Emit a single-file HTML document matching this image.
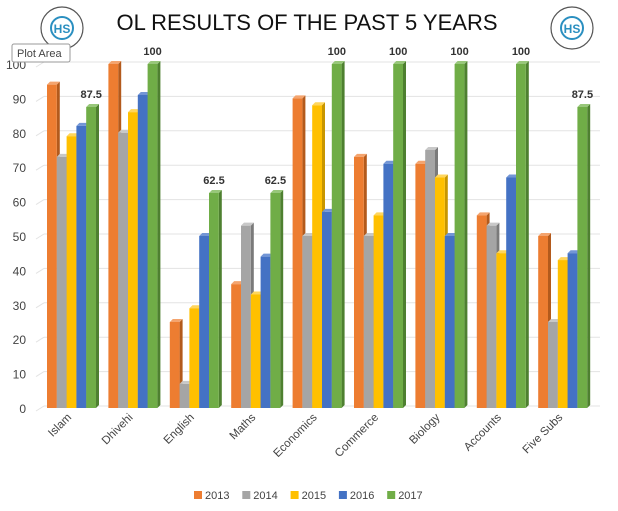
<!DOCTYPE html>
<html><head><meta charset="utf-8"><style>
body{margin:0;background:#fff;}
svg{display:block;font-family:"Liberation Sans",sans-serif;}
</style></head><body>
<svg id="s" width="618" height="511" xmlns="http://www.w3.org/2000/svg">
<rect width="618" height="511" fill="#fff"/>
<text x="307" y="30" font-size="22" text-anchor="middle" fill="#111">OL RESULTS OF THE PAST 5 YEARS</text>
<g fill="none" stroke="#555" stroke-width="1.2">
<circle cx="62" cy="28" r="21"/><circle cx="572" cy="28" r="21"/>
</g>
<g fill="none" stroke="#2a8fc0" stroke-width="2">
<circle cx="62" cy="28" r="11"/><circle cx="572" cy="28" r="11"/>
</g>
<text x="62" y="33" font-size="12" font-weight="bold" text-anchor="middle" fill="#2a8fc0">HS</text>
<text x="572" y="33" font-size="12" font-weight="bold" text-anchor="middle" fill="#2a8fc0">HS</text>
<g id="grid"></g><g id="bars"></g><g id="lab"></g>
<rect x="12" y="44" width="58" height="18" fill="#fff" stroke="#999" rx="2"/>
<text x="17" y="57" font-size="11" fill="#444">Plot Area</text>
</svg>
<script>
(function(){
const NS="http://www.w3.org/2000/svg";
function el(p,t,a,txt){const e=document.createElementNS(NS,t);for(const k in a)e.setAttribute(k,a[k]);if(txt!==undefined)e.textContent=txt;p.appendChild(e);return e;}
const g=document.getElementById('grid'),b=document.getElementById('bars'),l=document.getElementById('lab');
const y0=408,k=3.44;
for(let i=0;i<=10;i++){const y=y0-i*10*k;
el(g,'line',{x1:44,y1:y-2,x2:600,y2:y-2,stroke:'#e3e3e3','stroke-width':1});
el(g,'line',{x1:36,y1:y+3,x2:44,y2:y-2,stroke:'#e3e3e3','stroke-width':1});
el(g,'text',{x:26,y:y+5,'font-size':12,'text-anchor':'end',fill:'#444'},String(i*10));}
const cats=["Islam","Dhivehi","English","Maths","Economics","Commerce","Biology","Accounts","Five Subs"];
const d=[[94,73,79,82,87.5],[100,80,86,91,100],[25,7,29,50,62.5],[36,53,33,44,62.5],[90,50,88,57,100],[73,50,56,71,100],[71,75,67,50,100],[56,53,45,67,100],[50,25,43,45,87.5]];
const cols=["#ED7D31","#A5A5A5","#FFC000","#4472C4","#70AD47"];
const sideC=["#b35a1c","#7a7a7a","#c89600","#2f5597","#4e8030"];
const topC=["#f4a46e","#c8c8c8","#ffd65c","#7396d6","#98c77a"];
const w=9.8,dx=3,dy=3;
cats.forEach((c,i)=>{const x0=47+i*61.4;
for(let j=0;j<5;j++){const x=x0+j*w,h=d[i][j]*k,y=y0-h;
el(b,'polygon',{points:`${x+w},${y} ${x+w+dx},${y-dy} ${x+w+dx},${y0-dy} ${x+w},${y0}`,fill:sideC[j]});
el(b,'polygon',{points:`${x},${y} ${x+dx},${y-dy} ${x+w+dx},${y-dy} ${x+w},${y}`,fill:topC[j]});
el(b,'rect',{x:x,y:y,width:w,height:h,fill:cols[j]});}
const v=d[i][4];
el(b,'text',{x:x0+4*w+5,y:y0-v*k-9,'font-size':11,'font-weight':'bold','text-anchor':'middle',fill:'#333'},String(v));
const cx=x0+25;
el(l,'text',{x:cx,y:418,'font-size':11.5,'text-anchor':'end',fill:'#444',transform:`rotate(-45 ${cx} 418)`},c);
});
const yrs=["2013","2014","2015","2016","2017"];
yrs.forEach((t,j)=>{const x=194+j*48.3;
el(l,'rect',{x:x,y:491,width:8,height:8,fill:cols[j]});
el(l,'text',{x:x+11,y:499,'font-size':11,fill:'#444'},t);});
})();
</script>
</body></html>
